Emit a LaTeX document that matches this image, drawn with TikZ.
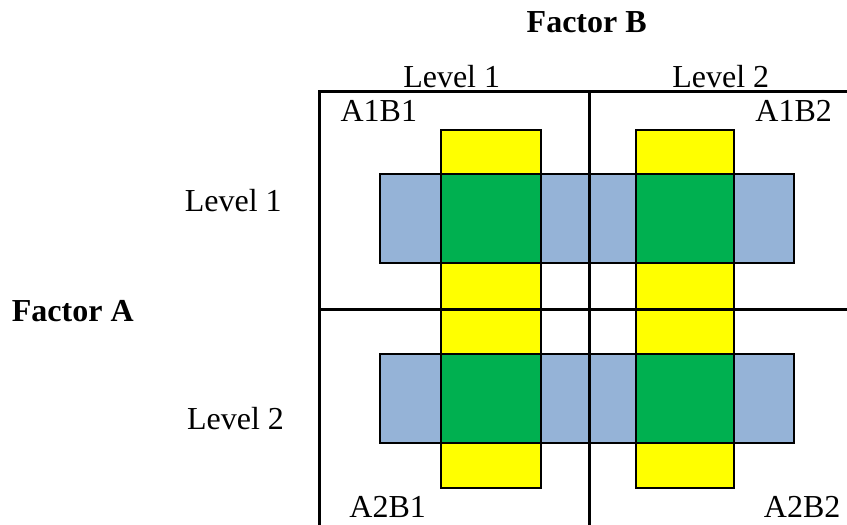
\documentclass[tikz,border=0pt]{standalone}
\usepackage{fontspec}
\setmainfont{Liberation Serif}
\definecolor{cellblue}{HTML}{95B3D7}
\definecolor{cellgreen}{HTML}{00B050}
\definecolor{cellyellow}{HTML}{FFFF00}
\tikzset{
  lbl/.style={inner sep=0pt, anchor=base, font=\fontsize{32}{38}\selectfont},
  blbl/.style={lbl, font=\fontsize{32}{38}\selectfont\bfseries},
  shapebox/.style={draw=black, line width=2pt},
  gridline/.style={draw=black, line width=3pt},
}
\begin{document}
\begin{tikzpicture}[x=1pt, y=-1pt]
\useasboundingbox (0,0) rectangle (847,525);
% yellow bars
\foreach \cx/\cw in {441/100, 636/98} {
  \draw[shapebox, fill=cellyellow] (\cx,130) rectangle ++(\cw,179);
  \draw[shapebox, fill=cellyellow] (\cx,309) rectangle ++(\cw,179);
}
% blue bars
\draw[shapebox, fill=cellblue] (380,174) rectangle (794,263);
\draw[shapebox, fill=cellblue] (380,354) rectangle (794,443);
% green squares
\foreach \cx/\cw in {441/100, 636/98} {
  \draw[shapebox, fill=cellgreen] (\cx,174) rectangle ++(\cw,89);
  \draw[shapebox, fill=cellgreen] (\cx,354) rectangle ++(\cw,89);
}
% grid
\coordinate (tl) at (319,91.3);
\coordinate (tr) at (847,91.3);
\coordinate (bl) at (319,525);
\coordinate (tm) at (589,91.3);
\coordinate (bm) at (589,525);
\coordinate (ml) at (319,309.3);
\coordinate (mr) at (847,309.3);
\draw[gridline, line cap=rect] (bl) -- (tl) -- (tr);
\draw[gridline] (tm) -- (bm);
\draw[gridline] (ml) -- (mr);
% labels
\node[blbl] (facB) at (586.7,32.5) {Factor B};
\node[lbl] (b1) at (451.7,87.3) {Level 1};
\node[lbl] (b2) at (720.8,87.3) {Level 2};
\node[blbl] (facA) at (72.8,321.7) {Factor A};
\node[lbl] (a1) at (233.3,211.7) {Level 1};
\node[lbl] (a2) at (235.5,429) {Level 2};
\node[lbl] (c11) at (378.8,121.7) {A1B1};
\node[lbl] (c12) at (793.7,121.7) {A1B2};
\node[lbl] (c21) at (387.7,517.5) {A2B1};
\node[lbl] (c22) at (802.2,517.5) {A2B2};
\end{tikzpicture}
\end{document}
